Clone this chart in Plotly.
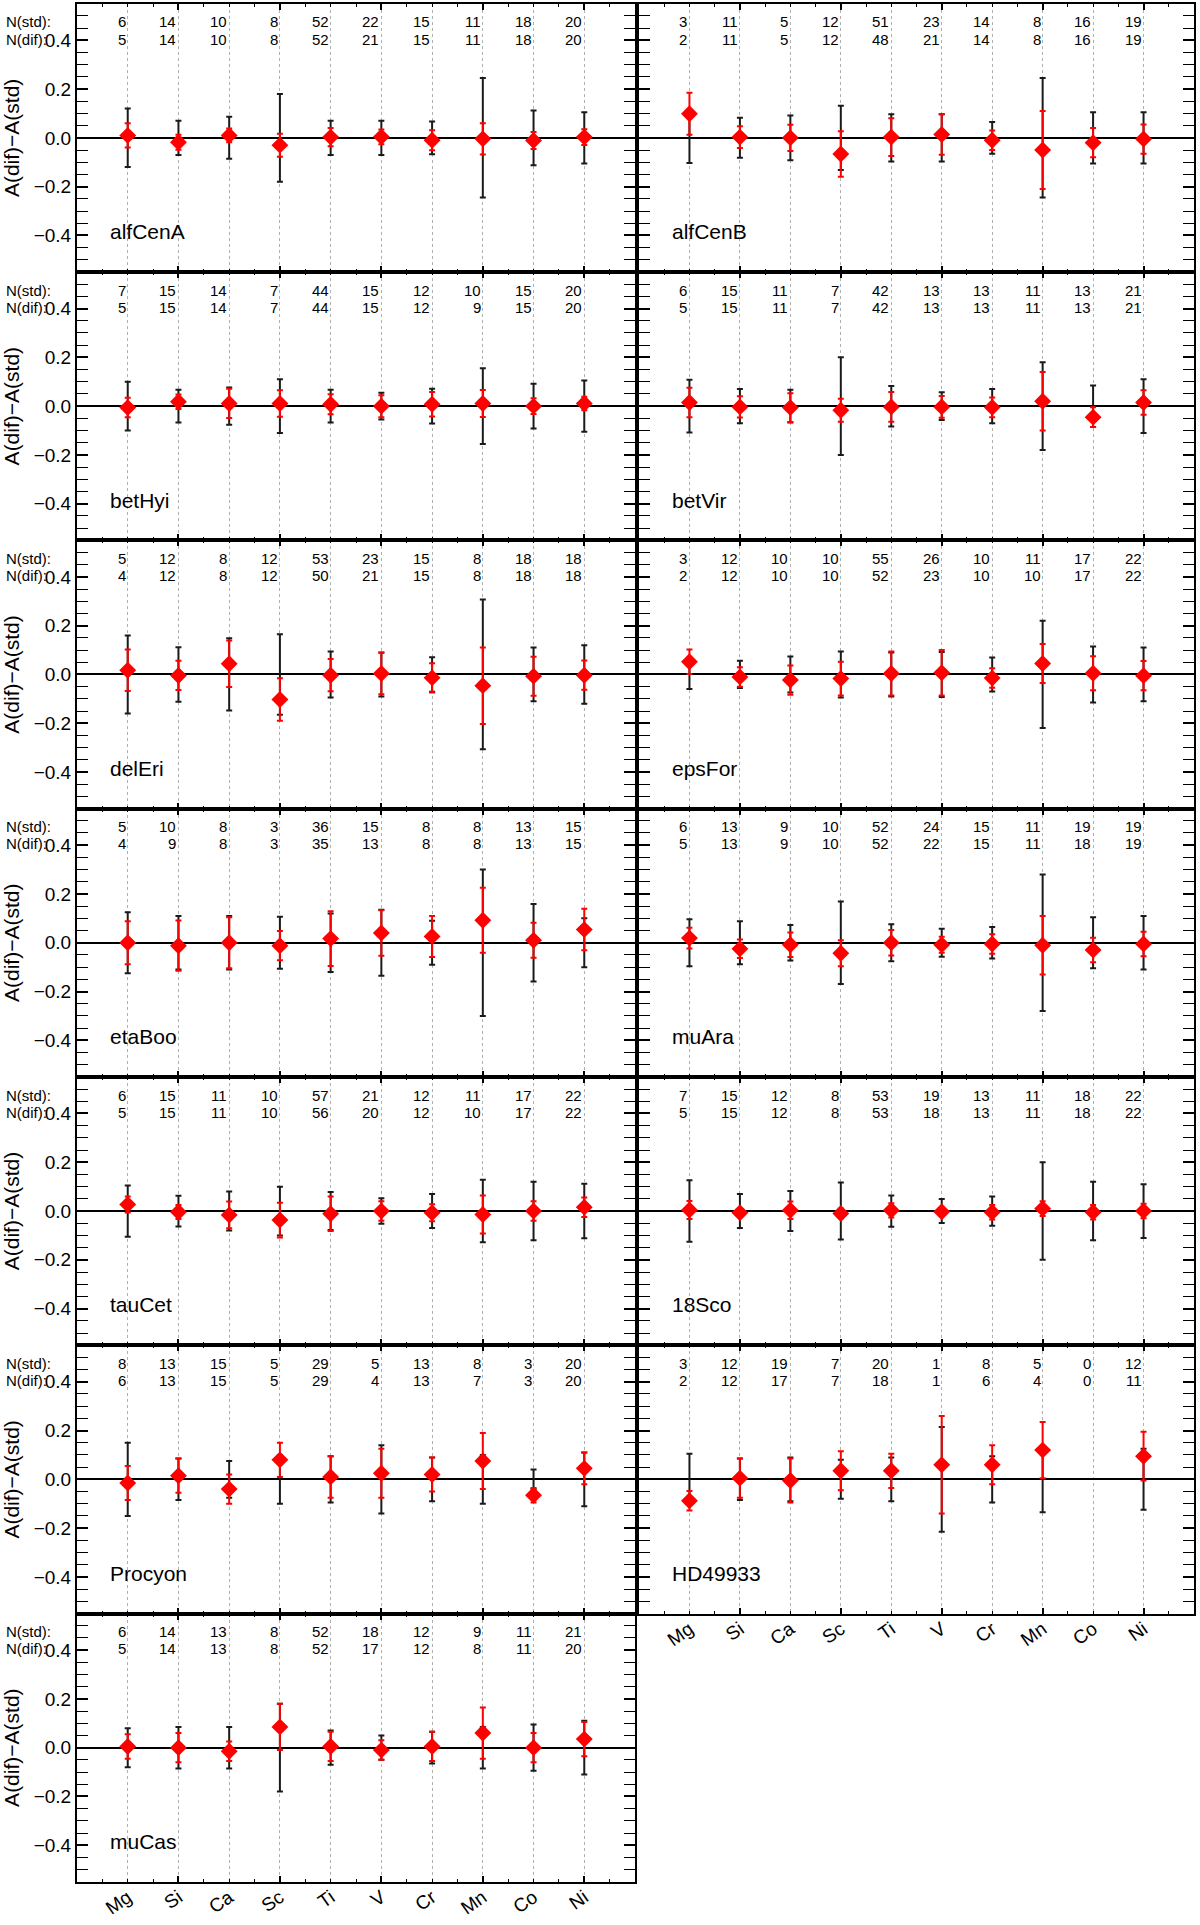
import plotly.graph_objects as go

elements = ["Mg", "Si", "Ca", "Sc", "Ti", "V", "Cr", "Mn", "Co", "Ni"]
stars = ["alfCenA", "alfCenB", "betHyi", "betVir", "delEri", "epsFor", "etaBoo",
         "muAra", "tauCet", "18Sco", "Procyon", "HD49933", "muCas"]

# A(dif)-A(std) per star (rows follow `stars`, columns follow `elements`)
diff = [
    [0.010, -0.018, 0.010, -0.030, 0.003, 0.004, -0.010, -0.004, -0.011, 0.003],
    [0.099, 0.003, 0.000, -0.066, 0.003, 0.014, -0.010, -0.050, -0.020, -0.005],
    [-0.006, 0.018, 0.011, 0.011, 0.008, 0.000, 0.008, 0.011, 0.000, 0.011],
    [0.015, -0.003, -0.006, -0.017, -0.003, -0.003, -0.005, 0.020, -0.045, 0.015],
    [0.017, -0.004, 0.044, -0.103, -0.003, 0.004, -0.014, -0.046, -0.007, -0.003],
    [0.052, -0.010, -0.023, -0.017, 0.004, 0.007, -0.015, 0.045, 0.005, -0.005],
    [0.000, -0.012, 0.000, -0.012, 0.017, 0.040, 0.026, 0.092, 0.010, 0.054],
    [0.019, -0.025, -0.008, -0.043, 0.000, -0.008, -0.005, -0.010, -0.030, -0.005],
    [0.027, -0.004, -0.016, -0.037, -0.011, 0.000, -0.007, -0.014, 0.000, 0.016],
    [0.004, -0.007, 0.003, -0.010, 0.003, -0.003, -0.005, 0.010, -0.005, 0.000],
    [-0.015, 0.015, -0.040, 0.080, 0.010, 0.025, 0.020, 0.075, -0.065, 0.045],
    [-0.088, 0.005, -0.005, 0.035, 0.035, 0.060, 0.060, 0.120, None, 0.095],
    [0.005, 0.000, -0.015, 0.085, 0.005, -0.010, 0.005, 0.060, 0.000, 0.035],
]

# error of the difference (red bars)
err_dif = [
    [0.050, 0.031, 0.028, 0.047, 0.037, 0.030, 0.041, 0.064, 0.035, 0.032],
    [0.086, 0.045, 0.054, 0.093, 0.077, 0.083, 0.040, 0.160, 0.060, 0.060],
    [0.040, 0.030, 0.060, 0.054, 0.041, 0.045, 0.050, 0.055, 0.032, 0.028],
    [0.060, 0.044, 0.059, 0.047, 0.061, 0.045, 0.040, 0.120, 0.040, 0.050],
    [0.085, 0.060, 0.095, 0.087, 0.066, 0.085, 0.060, 0.157, 0.080, 0.060],
    [0.050, 0.040, 0.060, 0.069, 0.090, 0.093, 0.040, 0.080, 0.070, 0.060],
    [0.088, 0.103, 0.105, 0.060, 0.112, 0.093, 0.084, 0.133, 0.072, 0.085],
    [0.043, 0.038, 0.050, 0.053, 0.052, 0.033, 0.040, 0.120, 0.050, 0.050],
    [0.033, 0.029, 0.055, 0.071, 0.071, 0.040, 0.035, 0.078, 0.040, 0.040],
    [0.037, 0.015, 0.036, 0.020, 0.029, 0.017, 0.030, 0.030, 0.030, 0.030],
    [0.070, 0.070, 0.060, 0.070, 0.085, 0.100, 0.070, 0.115, 0.030, 0.065],
    [0.040, 0.080, 0.090, 0.080, 0.070, 0.200, 0.080, 0.115, None, 0.100],
    [0.050, 0.060, 0.040, 0.095, 0.060, 0.040, 0.060, 0.105, 0.060, 0.070],
]

# scatter of the standard abundances (black bars, centred on zero)
err_std = [
    [0.120, 0.070, 0.086, 0.180, 0.070, 0.070, 0.067, 0.245, 0.112, 0.105],
    [0.103, 0.082, 0.092, 0.132, 0.097, 0.097, 0.065, 0.245, 0.105, 0.105],
    [0.100, 0.067, 0.076, 0.110, 0.067, 0.055, 0.071, 0.155, 0.092, 0.105],
    [0.108, 0.070, 0.067, 0.200, 0.083, 0.057, 0.070, 0.180, 0.085, 0.110],
    [0.160, 0.112, 0.148, 0.165, 0.094, 0.090, 0.071, 0.307, 0.110, 0.120],
    [0.060, 0.056, 0.074, 0.094, 0.090, 0.092, 0.070, 0.220, 0.115, 0.110],
    [0.125, 0.110, 0.110, 0.107, 0.120, 0.135, 0.090, 0.300, 0.159, 0.100],
    [0.096, 0.088, 0.073, 0.169, 0.076, 0.057, 0.065, 0.280, 0.105, 0.110],
    [0.105, 0.063, 0.080, 0.100, 0.078, 0.052, 0.070, 0.128, 0.120, 0.112],
    [0.126, 0.070, 0.082, 0.117, 0.064, 0.049, 0.060, 0.200, 0.120, 0.110],
    [0.150, 0.085, 0.075, 0.100, 0.095, 0.140, 0.090, 0.100, 0.040, 0.110],
    [0.105, 0.085, 0.090, 0.080, 0.090, 0.215, 0.095, 0.135, None, 0.125],
    [0.080, 0.085, 0.085, 0.180, 0.070, 0.050, 0.065, 0.085, 0.095, 0.110],
]

n_std = [
    [6, 14, 10, 8, 52, 22, 15, 11, 18, 20],
    [3, 11, 5, 12, 51, 23, 14, 8, 16, 19],
    [7, 15, 14, 7, 44, 15, 12, 10, 15, 20],
    [6, 15, 11, 7, 42, 13, 13, 11, 13, 21],
    [5, 12, 8, 12, 53, 23, 15, 8, 18, 18],
    [3, 12, 10, 10, 55, 26, 10, 11, 17, 22],
    [5, 10, 8, 3, 36, 15, 8, 8, 13, 15],
    [6, 13, 9, 10, 52, 24, 15, 11, 19, 19],
    [6, 15, 11, 10, 57, 21, 12, 11, 17, 22],
    [7, 15, 12, 8, 53, 19, 13, 11, 18, 22],
    [8, 13, 15, 5, 29, 5, 13, 8, 3, 20],
    [3, 12, 19, 7, 20, 1, 8, 5, 0, 12],
    [6, 14, 13, 8, 52, 18, 12, 9, 11, 21],
]

n_dif = [
    [5, 14, 10, 8, 52, 21, 15, 11, 18, 20],
    [2, 11, 5, 12, 48, 21, 14, 8, 16, 19],
    [5, 15, 14, 7, 44, 15, 12, 9, 15, 20],
    [5, 15, 11, 7, 42, 13, 13, 11, 13, 21],
    [4, 12, 8, 12, 50, 21, 15, 8, 18, 18],
    [2, 12, 10, 10, 52, 23, 10, 10, 17, 22],
    [4, 9, 8, 3, 35, 13, 8, 8, 13, 15],
    [5, 13, 9, 10, 52, 22, 15, 11, 18, 19],
    [5, 15, 11, 10, 56, 20, 12, 10, 17, 22],
    [5, 15, 12, 8, 53, 18, 13, 11, 18, 22],
    [6, 13, 15, 5, 29, 4, 13, 7, 3, 20],
    [2, 12, 17, 7, 18, 1, 6, 4, 0, 11],
    [5, 14, 13, 8, 52, 17, 12, 8, 11, 20],
]

W, H = 1200, 1925
FONT = "Liberation Sans"
col_px = [(77, 635), (639, 1194)]
row_top, row_h = 3.7, 268.3
bottom_panels = {11, 12}
xpos = list(range(1, len(elements) + 1))

fig = go.Figure()
layout = dict(
    width=W, height=H, margin=dict(l=0, r=0, t=0, b=0),
    paper_bgcolor="white", plot_bgcolor="white", showlegend=False,
    font=dict(family=FONT, color="black"),
)
annotations = []

for k, star in enumerate(stars):
    row, col = divmod(k, 2)
    a, b, yi = 2 * k + 1, 2 * k + 2, k + 1
    xa, xb, ya = f"x{a}", f"x{b}", f"y{yi}"
    x0, x1 = col_px[col]
    top = row_top + row * row_h
    bot = top + row_h
    xdom = [x0 / W, x1 / W]
    ydom = [1 - bot / H, 1 - top / H]

    layout[f"xaxis{a}"] = dict(
        domain=xdom, anchor=ya, range=[0, 11],
        tickmode="array", tickvals=xpos, ticktext=elements,
        showticklabels=k in bottom_panels, ticks="", tickangle=-35,
        tickfont=dict(size=19, family=FONT),
        showgrid=True, gridcolor="#b0b0b0", gridwidth=1, griddash="3px,3px",
        zeroline=False, showline=False,
    )
    layout[f"xaxis{b}"] = dict(
        overlaying=xa, anchor=ya, range=[0, 11],
        tickmode="linear", tick0=0, dtick=2, ticks="inside", ticklen=6,
        tickwidth=1.5, tickcolor="black",
        minor=dict(dtick=0.5, tick0=0, ticks="inside", ticklen=3, tickwidth=1.2,
                   tickcolor="black"),
        showline=True, linecolor="black", linewidth=2, mirror="allticks",
        showticklabels=False, showgrid=False, zeroline=False,
    )
    yax = dict(
        domain=ydom, anchor=xa, range=[-0.55, 0.55],
        tickmode="linear", tick0=0, dtick=0.2, ticks="inside", ticklen=11,
        tickwidth=1.5, tickcolor="black",
        minor=dict(dtick=0.05, tick0=0, ticks="inside", ticklen=5, tickwidth=1.2,
                   tickcolor="black"),
        showline=True, linecolor="black", linewidth=2, mirror="allticks",
        showticklabels=(col == 0), tickformat=".1f",
        tickfont=dict(size=19, family=FONT),
        showgrid=False, zeroline=True, zerolinecolor="black", zerolinewidth=1.5,
    )
    if col == 0:
        yax["title"] = dict(text="A(dif)\u2212A(std)", font=dict(size=21, family=FONT),
                            standoff=9)
    layout[f"yaxis{yi}"] = yax

    # dummy trace so that the tick-mark overlay axis is drawn
    fig.add_trace(go.Scatter(x=[None], y=[None], xaxis=xb, yaxis=ya,
                             hoverinfo="skip", showlegend=False))

    # scatter of the standard (black), centred on zero
    zero_y = [0 if e is not None else None for e in err_std[k]]
    fig.add_trace(go.Scatter(
        x=xpos, y=zero_y, xaxis=xa, yaxis=ya, mode="markers",
        marker=dict(size=1, color="rgba(0,0,0,0)"),
        error_y=dict(type="data", array=err_std[k], symmetric=True,
                     color="#1a1a1a", thickness=2, width=3),
        hoverinfo="skip", showlegend=False))

    # differential values (red)
    fig.add_trace(go.Scatter(
        x=xpos, y=diff[k], xaxis=xa, yaxis=ya, mode="markers",
        marker=dict(symbol="diamond", size=13, color="#ff0000"),
        error_y=dict(type="data", array=err_dif[k], symmetric=True,
                     color="#ff0000", thickness=2, width=3),
        showlegend=False))

    # star name
    annotations.append(dict(x=0.62, y=-0.385, xref=xa, yref=ya, text=star,
                            showarrow=False, xanchor="left", yanchor="middle",
                            font=dict(size=21, family=FONT)))
    # line counts
    for i, xv in enumerate(xpos):
        annotations.append(dict(x=xv, y=0.475, xref=xa, yref=ya, text=str(n_std[k][i]),
                                showarrow=False, xanchor="right", yanchor="middle",
                                font=dict(size=15, family=FONT)))
        annotations.append(dict(x=xv, y=0.405, xref=xa, yref=ya, text=str(n_dif[k][i]),
                                showarrow=False, xanchor="right", yanchor="middle",
                                font=dict(size=15, family=FONT)))
    if col == 0:
        annotations.append(dict(x=4 / W, y=0.475, xref="paper", yref=ya, text="N(std):",
                                showarrow=False, xanchor="left", yanchor="middle",
                                font=dict(size=15, family=FONT)))
        annotations.append(dict(x=4 / W, y=0.405, xref="paper", yref=ya, text="N(dif):",
                                showarrow=False, xanchor="left", yanchor="middle",
                                font=dict(size=15, family=FONT)))

layout["annotations"] = annotations
fig.update_layout(**layout)
# remove the browser's default 8px body margin so the figure fills the window exactly
fig.write_html("out.html", config={"displayModeBar": False},
               post_script="document.body.style.margin='0';")
